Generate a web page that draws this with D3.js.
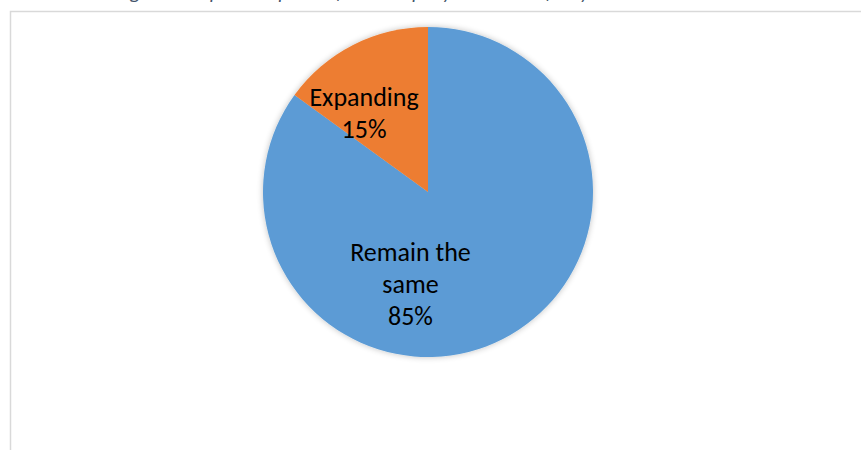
<!DOCTYPE html>
<html>
<head>
<meta charset="utf-8">
<title>pie</title>
<script src="https://cdnjs.cloudflare.com/ajax/libs/d3/7.8.5/d3.min.js"></script>
<style>
  body { margin: 0; background: #fff; }
  svg { display: block; }
</style>
</head>
<body>
<div id="vis_container"></div>
<script>

    // data
    var categories = ["Remain the same", "Expanding"];
    var shares = [85, 15];
    var labelLines = [["Remain the", "same", "85%"], ["Expanding", "15%"]];
    var colors = ["#5b9bd5", "#ed7d31"];

    var width = 861;
    var height = 450;

    var svg = d3.select("#vis_container")
                .append("svg")
                .attr("width", width)
                .attr("height", height);

    // caption above the chart, cropped off in the picture (only descenders show)
    svg.append("text")
        .attr("x", 370)
        .attr("y", -1)
        .attr("text-anchor", "middle")
        .style("font-family", "Carlito, 'Liberation Sans', sans-serif")
        .style("font-style", "italic")
        .style("font-size", "20px")
        .style("fill", "#44546a")
        .text("Figure 9: Expansion plans of the company in the next few years");

    // chart frame
    svg.append("rect")
        .attr("x", 10.5)
        .attr("y", 11.5)
        .attr("width", 870)
        .attr("height", 460)
        .style("fill", "#fff")
        .style("stroke", "#d9d9d9")
        .style("stroke-width", 1.5);

    var defs = svg.append("defs");
    var f = defs.append("filter").attr("id", "shadow")
        .attr("x", "-10%").attr("y", "-10%").attr("width", "120%").attr("height", "120%");
    f.append("feGaussianBlur").attr("in", "SourceAlpha").attr("stdDeviation", 3).attr("result", "b");
    f.append("feComponentTransfer").attr("in", "b").attr("result", "c")
        .append("feFuncA").attr("type", "linear").attr("slope", 0.25);
    var m = f.append("feMerge");
    m.append("feMergeNode").attr("in", "c");
    m.append("feMergeNode").attr("in", "SourceGraphic");

    var cx = 428, cy = 192, r = 165;

    var pie = d3.pie().sort(null).value(function(d) { return d; });
    var arc = d3.arc().innerRadius(0).outerRadius(r);
    var arcs = pie(shares);

    var g = svg.append("g").attr("transform", "translate(" + cx + "," + cy + ")");

    g.append("g").attr("filter", "url(#shadow)")
        .selectAll("path").data(arcs)
        .enter().append("path")
        .attr("d", arc)
        .style("fill", function(d, i) { return colors[i]; });

    // labels: start at the slice centroid, then nudge to where Excel's "best fit" put them
    var labelArc = d3.arc().innerRadius(0).outerRadius(r);
    var nudge = [[-55, 18.5], [-26.5, -5.5]];
    var lineH = 32;

    arcs.forEach(function(d, i) {
        var c = labelArc.centroid(d);
        var x = c[0] + nudge[i][0], y = c[1] + nudge[i][1];
        var lines = labelLines[i];
        var t = g.append("text")
            .attr("text-anchor", "middle")
            .style("font-family", "Carlito, 'Liberation Sans', sans-serif")
            .style("font-size", "26px")
            .style("fill", "#000");
        lines.forEach(function(s, k) {
            t.append("tspan")
                .attr("x", x)
                .attr("y", y + (k - (lines.length - 1) / 2) * lineH + 8.5)
                .text(s);
        });
    });

</script>
</body>
</html>
